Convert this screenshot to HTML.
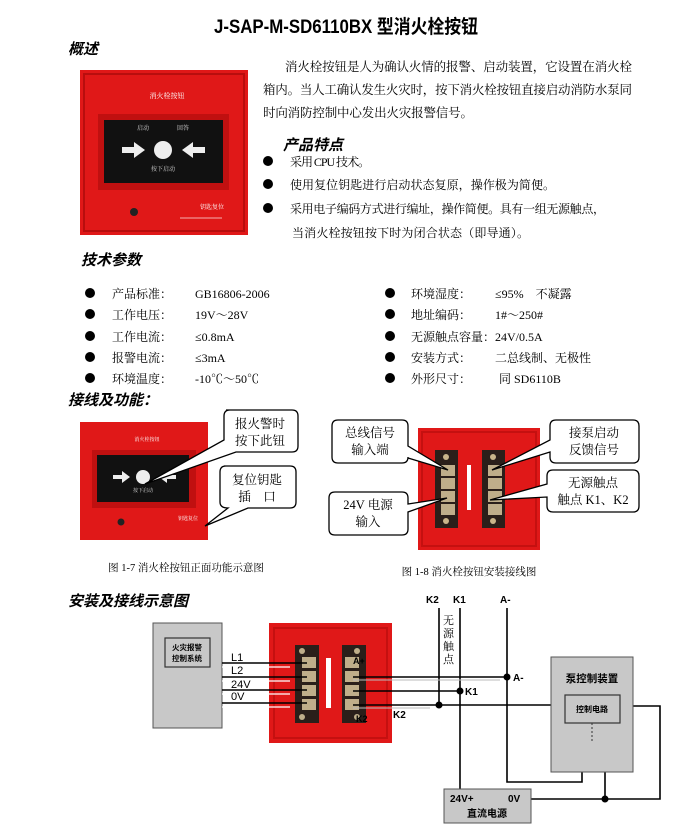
<!DOCTYPE html>
<html><head><meta charset="utf-8"><style>
html,body{margin:0;padding:0;background:#fff;}
svg{display:block;}
.s{font-family:"Liberation Serif","Noto Serif CJK SC",serif;}
.h{font-family:"Liberation Sans","Noto Sans CJK SC",sans-serif;font-weight:bold;font-style:italic;}
.b{font-family:"Liberation Sans","Noto Sans CJK SC",sans-serif;font-weight:bold;}
</style></head><body>
<svg width="695" height="826" viewBox="0 0 695 826" xmlns="http://www.w3.org/2000/svg">
<defs>
<g id="term">
  <rect x="0" y="0" width="23" height="78" fill="#2a1f1a"/>
  <circle cx="11" cy="7" r="3" fill="#c9b58a"/>
  <circle cx="11" cy="71" r="3" fill="#c9b58a"/>
  <rect x="6" y="15" width="14" height="11" fill="#bfae8a"/>
  <rect x="6" y="28" width="14" height="11" fill="#bfae8a"/>
  <rect x="6" y="41" width="14" height="11" fill="#bfae8a"/>
  <rect x="6" y="54" width="14" height="11" fill="#bfae8a"/>
</g>
</defs>
<!-- Title -->
<text x="214" y="33" class="b" font-size="19" textLength="264" lengthAdjust="spacingAndGlyphs">J-SAP-M-SD6110BX 型消火栓按钮</text>
<text x="68" y="54" class="h" font-size="15">概述</text>

<!-- photo 1 -->
<rect x="80" y="70" width="168" height="165" fill="#e01818"/>
<rect x="84" y="74" width="160" height="157" fill="none" stroke="#b80e0e" stroke-width="2"/>
<text x="167" y="98" text-anchor="middle" class="s" font-size="7" fill="#fff">消火栓按钮</text>
<rect x="98" y="114" width="131" height="76" fill="#c01010"/>
<rect x="104" y="120" width="119" height="63" fill="#111"/>
<text x="143" y="130" text-anchor="middle" class="s" font-size="6" fill="#ddd">启动</text>
<text x="183" y="130" text-anchor="middle" class="s" font-size="6" fill="#ddd">回答</text>
<ellipse cx="163" cy="150" rx="9" ry="9" fill="#eee"/>
<polygon points="122,147 134,147 134,142 145,150 134,158 134,153 122,153" fill="#eee"/>
<polygon points="205,147 193,147 193,142 182,150 193,158 193,153 205,153" fill="#eee"/>
<text x="163" y="171" text-anchor="middle" class="s" font-size="6" fill="#ddd">按下启动</text>
<circle cx="134" cy="212" r="4" fill="#222"/>
<text x="212" y="209" text-anchor="middle" class="s" font-size="6" fill="#fff">钥匙复位</text>
<line x1="180" y1="218" x2="222" y2="218" stroke="#f5b0b0" stroke-width="1"/>

<!-- overview paragraph -->
<g class="s" font-size="12.5" fill="#000">
<text x="285" y="71" textLength="347" lengthAdjust="spacing">消火栓按钮是人为确认火情的报警、启动装置，它设置在消火栓</text>
<text x="263" y="94" textLength="369" lengthAdjust="spacing">箱内。当人工确认发生火灾时，按下消火栓按钮直接启动消防水泵同</text>
<text x="263" y="117" textLength="210" lengthAdjust="spacing">时向消防控制中心发出火灾报警信号。</text>
</g>
<text x="283" y="150" class="h" font-size="15">产品特点</text>
<g fill="#000"><circle cx="268" cy="161" r="5"/><circle cx="268" cy="184" r="5"/><circle cx="268" cy="208" r="5"/></g>
<g class="s" font-size="12">
<text x="290" y="166" textLength="80" lengthAdjust="spacing">采用 CPU 技术。</text>
<text x="290" y="189" textLength="265" lengthAdjust="spacing">使用复位钥匙进行启动状态复原，操作极为简便。</text>
<text x="290" y="213" textLength="315" lengthAdjust="spacing">采用电子编码方式进行编址，操作简便。具有一组无源触点，</text>
<text x="292" y="237" textLength="237" lengthAdjust="spacing">当消火栓按钮按下时为闭合状态（即导通）。</text>
</g>

<!-- tech params -->
<text x="81" y="265" class="h" font-size="15">技术参数</text>
<g fill="#000">
<circle cx="90" cy="293" r="5"/><circle cx="90" cy="314" r="5"/><circle cx="90" cy="336" r="5"/><circle cx="90" cy="357" r="5"/><circle cx="90" cy="378" r="5"/>
<circle cx="390" cy="293" r="5"/><circle cx="390" cy="314" r="5"/><circle cx="390" cy="336" r="5"/><circle cx="390" cy="357" r="5"/><circle cx="390" cy="378" r="5"/>
</g>
<g class="s" font-size="12">
<text x="112" y="298">产品标准：</text><text x="195" y="298">GB16806-2006</text>
<text x="112" y="319">工作电压：</text><text x="195" y="319">19V～28V</text>
<text x="112" y="341">工作电流：</text><text x="195" y="341">≤0.8mA</text>
<text x="112" y="362">报警电流：</text><text x="195" y="362">≤3mA</text>
<text x="112" y="383">环境温度：</text><text x="195" y="383">-10℃～50℃</text>
<text x="411" y="298">环境湿度：</text><text x="495" y="298">≤95%　不凝露</text>
<text x="411" y="319">地址编码：</text><text x="495" y="319">1#～250#</text>
<text x="411" y="341">无源触点容量：24V/0.5A</text>
<text x="411" y="362">安装方式：</text><text x="495" y="362">二总线制、无极性</text>
<text x="411" y="383">外形尺寸：</text><text x="499" y="383">同 SD6110B</text>
</g>

<text x="68" y="405" class="h" font-size="15">接线及功能：</text>

<!-- photo 2 -->
<rect x="80" y="422" width="128" height="118" fill="#e01818"/>
<text x="147" y="441" text-anchor="middle" class="s" font-size="5" fill="#fff">消火栓按钮</text>
<rect x="92" y="450" width="104" height="58" fill="#c01010"/>
<rect x="97" y="455" width="92" height="47" fill="#111"/>
<circle cx="143" cy="477" r="7" fill="#eee"/>
<polygon points="113,475 122,475 122,471 130,477 122,483 122,479 113,479" fill="#eee"/>
<polygon points="176,475 167,475 167,471 159,477 167,483 167,479 176,479" fill="#eee"/>
<text x="143" y="492" text-anchor="middle" class="s" font-size="5" fill="#ddd">按下启动</text>
<circle cx="121" cy="522" r="3.5" fill="#222"/>
<text x="188" y="520" text-anchor="middle" class="s" font-size="5" fill="#fff">钥匙复位</text>

<!-- callouts photo 2 -->
<g fill="#fff" stroke="#000" stroke-width="1.3">
<path d="M226,410 H292 Q298,410 298,416 V446 Q298,452 292,452 H236 L145,484 L224,440 V416 Q224,410 230,410 Z" />
<path d="M224,466 H290 Q296,466 296,472 V502 Q296,508 290,508 H248 L205,526 L228,508 Q220,508 220,502 V472 Q220,466 226,466 Z"/>
</g>
<g class="s" font-size="12.5">
<text x="260" y="428" text-anchor="middle">报火警时</text>
<text x="260" y="445" text-anchor="middle">按下此钮</text>
<text x="257" y="484" text-anchor="middle">复位钥匙</text>
<text x="257" y="501" text-anchor="middle">插　口</text>
</g>
<text x="186" y="571" text-anchor="middle" class="s" font-size="10.5">图 1-7 消火栓按钮正面功能示意图</text>

<!-- photo 3 -->
<rect x="418" y="428" width="122" height="122" fill="#e01818"/>
<rect x="422" y="432" width="114" height="114" fill="none" stroke="#c51010" stroke-width="2"/>
<use href="#term" x="435" y="450"/>
<use href="#term" x="482" y="450"/>
<rect x="467" y="465" width="4" height="45" fill="#fff"/>
<g fill="#fff" stroke="#000" stroke-width="1.3">
<path d="M338,420 H402 Q408,420 408,426 V446 L448,470 L408,458 V457 Q408,463 402,463 H338 Q332,463 332,457 V426 Q332,420 338,420 Z"/>
<path d="M556,420 H633 Q639,420 639,426 V457 Q639,463 633,463 H556 Q550,463 550,457 V452 L492,470 L550,440 V426 Q550,420 556,420 Z"/>
<path d="M335,492 H402 Q408,492 408,498 V504 L447,498 L408,512 V529 Q408,535 402,535 H335 Q329,535 329,529 V498 Q329,492 335,492 Z"/>
<path d="M553,470 H633 Q639,470 639,476 V506 Q639,512 633,512 H553 Q547,512 547,506 V497 L490,500 L547,484 V476 Q547,470 553,470 Z"/>
</g>
<g class="s" font-size="12.5">
<text x="370" y="437" text-anchor="middle">总线信号</text>
<text x="370" y="454" text-anchor="middle">输入端</text>
<text x="594" y="437" text-anchor="middle">接泵启动</text>
<text x="594" y="454" text-anchor="middle">反馈信号</text>
<text x="368" y="509" text-anchor="middle">24V 电源</text>
<text x="368" y="526" text-anchor="middle">输入</text>
<text x="593" y="487" text-anchor="middle">无源触点</text>
<text x="593" y="504" text-anchor="middle">触点 K1、K2</text>
</g>
<text x="469" y="575" text-anchor="middle" class="s" font-size="10.5">图 1-8 消火栓按钮安装接线图</text>

<!-- wiring diagram -->
<text x="68" y="606" class="h" font-size="15">安装及接线示意图</text>
<rect x="153" y="623" width="69" height="105" fill="#c8c8c8" stroke="#555" stroke-width="1"/>
<rect x="165" y="638" width="45" height="29" fill="#c8c8c8" stroke="#333" stroke-width="1.2"/>
<text x="187" y="650" text-anchor="middle" class="b" font-size="7.5">火灾报警</text>
<text x="187" y="661" text-anchor="middle" class="b" font-size="7.5">控制系统</text>

<rect x="269" y="623" width="123" height="120" fill="#e01818"/>
<rect x="274" y="628" width="113" height="110" fill="none" stroke="#c51010" stroke-width="2"/>
<rect x="295" y="645" width="24" height="78" fill="#2a1f1a"/>
<rect x="342" y="645" width="24" height="78" fill="#2a1f1a"/>
<g fill="#bfae8a">
<rect x="302" y="657" width="14" height="11"/><rect x="302" y="671" width="14" height="11"/><rect x="302" y="685" width="14" height="11"/><rect x="302" y="699" width="14" height="11"/>
<rect x="345" y="657" width="14" height="11"/><rect x="345" y="671" width="14" height="11"/><rect x="345" y="685" width="14" height="11"/><rect x="345" y="699" width="14" height="11"/>
<circle cx="302" cy="651" r="3"/><circle cx="302" cy="717" r="3"/><circle cx="357" cy="651" r="3"/><circle cx="357" cy="717" r="3"/>
</g>
<rect x="326" y="658" width="5" height="50" fill="#fff"/>
<text x="353" y="664" class="b" font-size="9">A+</text>
<text x="356" y="722" class="b" font-size="9">K2</text>

<g stroke="#000" stroke-width="1.6">
<line x1="222" y1="663" x2="307" y2="663"/><line x1="222" y1="677" x2="307" y2="677"/>
<line x1="222" y1="690" x2="307" y2="690"/><line x1="222" y1="703" x2="307" y2="703"/>
</g>
<g stroke="#fff" stroke-width="1.2">
<line x1="222" y1="667" x2="290" y2="667"/><line x1="222" y1="681" x2="290" y2="681"/>
<line x1="222" y1="694" x2="290" y2="694"/><line x1="222" y1="707" x2="290" y2="707"/>
</g>
<g font-family="Liberation Sans, sans-serif" font-size="11">
<text x="231" y="661">L1</text><text x="231" y="674">L2</text><text x="231" y="688">24V</text><text x="231" y="700">0V</text>
</g>

<g stroke="#000" stroke-width="1.6" fill="none">
<line x1="353" y1="677" x2="507" y2="677"/>
<line x1="353" y1="691" x2="460" y2="691"/>
<line x1="353" y1="705" x2="551" y2="705"/>
<line x1="439" y1="608" x2="439" y2="705"/>
<line x1="460" y1="608" x2="460" y2="789"/>
<polyline points="507,608 507,782 582,782 582,744 587,744"/>
<line x1="587" y1="743" x2="594" y2="753"/>
<polyline points="600,744 605,744 605,799"/>
<polyline points="531,799 660,799 660,706 633,706"/>
</g>
<g stroke="#bbb" stroke-width="1"><line x1="353" y1="680" x2="500" y2="680"/><line x1="353" y1="708" x2="430" y2="708"/></g>
<g fill="#000"><circle cx="507" cy="677" r="3.5"/><circle cx="460" cy="691" r="3.5"/><circle cx="439" cy="705" r="3.5"/><circle cx="605" cy="799" r="3.5"/></g>
<g class="b" font-size="10">
<text x="426" y="603">K2</text><text x="453" y="603">K1</text><text x="500" y="603">A-</text>
<text x="513" y="681">A-</text><text x="465" y="695">K1</text><text x="393" y="718">K2</text>
</g>
<g class="s" font-size="11">
<text x="443" y="624">无</text><text x="443" y="637">源</text><text x="443" y="650">触</text><text x="443" y="663">点</text>
</g>

<rect x="551" y="657" width="82" height="115" fill="#c8c8c8" stroke="#555" stroke-width="1"/>
<text x="592" y="682" text-anchor="middle" class="b" font-size="10.5">泵控制装置</text>
<rect x="565" y="695" width="55" height="28" fill="#c8c8c8" stroke="#333" stroke-width="1.2"/>
<text x="592" y="712" text-anchor="middle" class="b" font-size="8">控制电路</text>
<line x1="592" y1="723" x2="592" y2="742" stroke="#333" stroke-width="1" stroke-dasharray="2,2"/>

<rect x="444" y="789" width="87" height="34" fill="#c8c8c8" stroke="#555" stroke-width="1"/>
<text x="450" y="802" class="b" font-size="10">24V+</text>
<text x="508" y="802" class="b" font-size="10">0V</text>
<text x="487" y="817" text-anchor="middle" class="b" font-size="10">直流电源</text>
</svg>
</body></html>
